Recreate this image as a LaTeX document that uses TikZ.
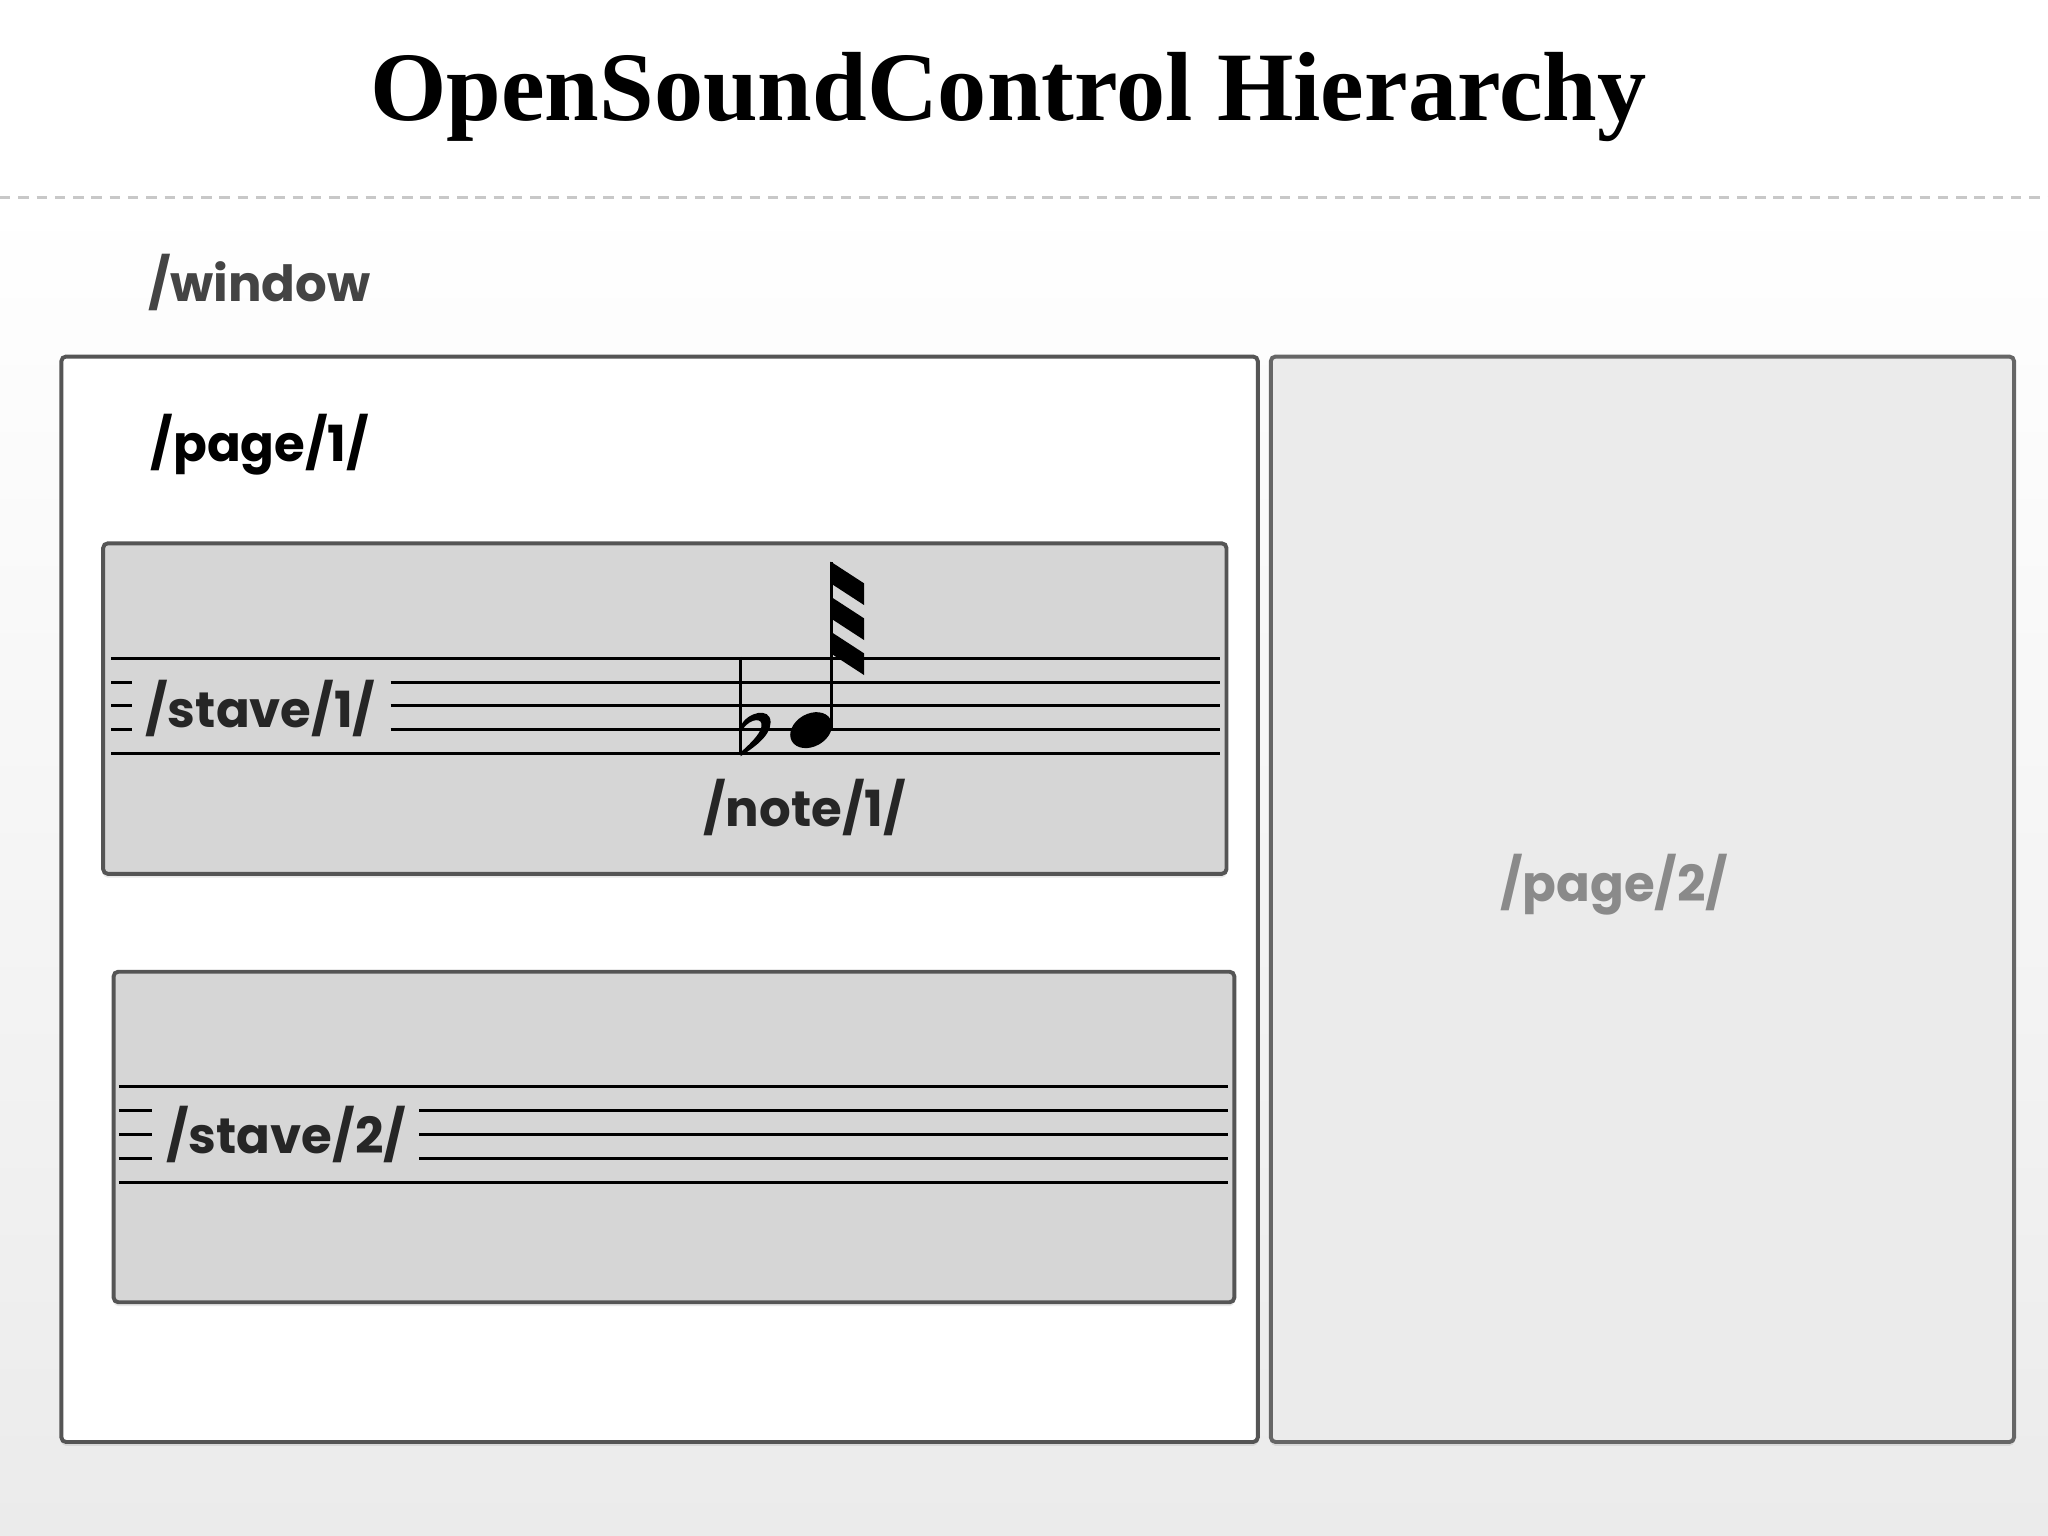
\documentclass[tikz,border=0pt]{standalone}
\usepackage{fontspec}
\usepackage{xcolor}
\usetikzlibrary{shadows}
\newfontfamily\titlefont{Liberation Serif}
\newfontfamily\pathfont{Poppins}
\definecolor{boxline}{HTML}{555555}
\definecolor{boxlight}{HTML}{666666}
\definecolor{stavefill}{HTML}{D6D6D6}
\definecolor{pagetwo}{HTML}{EBEBEB}
\definecolor{dashgray}{HTML}{C8C8C8}
\definecolor{bgbottom}{HTML}{EBEBEB}
\definecolor{windowgray}{HTML}{444444}
\definecolor{stavetext}{HTML}{262626}
\definecolor{pagetwotext}{HTML}{8A8A8A}
\tikzset{
    page-box/.style = {draw=boxline, line width=0.06cm, rounded corners=0.07cm,
        drop shadow={shadow xshift=0pt, shadow yshift=-0.06cm, opacity=0.18}},
    stave-box/.style = {page-box, fill=stavefill},
    staff-line/.style = {draw=black, line width=0.045cm},
    path-label/.style = {font=\pathfont\bfseries\fontsize{21.7}{26}\selectfont, inner sep=0pt},
    dash-line/.style = {draw=dashgray, line width=0.04cm, dash pattern=on 0.16cm off 0.12cm},
}

\begin{document}
\begin{tikzpicture}[x=0.02cm, y=-0.02cm]
% background
\fill[white] (0,0) rectangle (1568,152);
\shade[top color=white, bottom color=bgbottom] (0,151) rectangle (1568,1176);
\useasboundingbox (0,0) rectangle (1568,1176);

\node[anchor=base, inner sep=0pt, font=\titlefont\bfseries\fontsize{42.8}{48}\selectfont] (title) at (772,92) {OpenSoundControl Hierarchy};
\draw[dash-line] (0,151) -- (1568,151);
\node[path-label, anchor=base west, text=windowgray] (window) at (113,231) {/window};

% pages
\draw[page-box, fill=white] (47,273) rectangle (963,1104);
\draw[page-box, draw=boxlight, fill=pagetwo] (973,273) rectangle (1542,1104);
\node[path-label, anchor=base west] (page1) at (115,353.5) {/page/1/};
\node[path-label, anchor=base, text=pagetwotext] (page2) at (1236,690) {/page/2/};

% stave 1
\draw[stave-box] (79,416) rectangle (939,669);
\foreach \k in {0,4}
    \draw[staff-line] (85,504+18.25*\k) -- (934,504+18.25*\k);
\foreach \k in {1,2,3} {
    \draw[staff-line] (85,504+18.25*\k) -- (101,504+18.25*\k);
    \draw[staff-line] (299,504+18.25*\k) -- (934,504+18.25*\k);
}
\node[path-label, anchor=base west, text=stavetext] (stave1) at (111,557) {/stave/1/};

% note with flat
\draw[line width=0.05cm] (567,503) -- (567,578);
\fill (567,556) .. controls (572,545) and (590,541) .. (590,553) .. controls (590,564) and (576,573) .. (567,579)
    -- (567,576) .. controls (576,568) and (584,560) .. (583,554) .. controls (582,549) and (572,551) .. (567,561) -- cycle;
\fill[rotate around={30:(621,559)}] (621,559) ellipse [x radius=0.34cm, y radius=0.25cm];
\draw[line width=0.045cm] (636.5,557) -- (636.5,430);
\foreach \k in {0,1,2}
    \fill (636,430+26.8*\k) -- (661.5,446.6+26.8*\k) -- (661.5,463.2+26.8*\k) -- (636,446.6+26.8*\k) -- cycle;
\node[path-label, anchor=base, text=stavetext] (note1) at (616,633) {/note/1/};

% stave 2
\draw[stave-box] (87,744) rectangle (945,997);
\foreach \k in {0,4}
    \draw[staff-line] (91,832+18.25*\k) -- (940,832+18.25*\k);
\foreach \k in {1,2,3} {
    \draw[staff-line] (91,832+18.25*\k) -- (116,832+18.25*\k);
    \draw[staff-line] (321,832+18.25*\k) -- (940,832+18.25*\k);
}
\node[path-label, anchor=base west, text=stavetext] (stave2) at (127,883) {/stave/2/};
\end{tikzpicture}
\end{document}
